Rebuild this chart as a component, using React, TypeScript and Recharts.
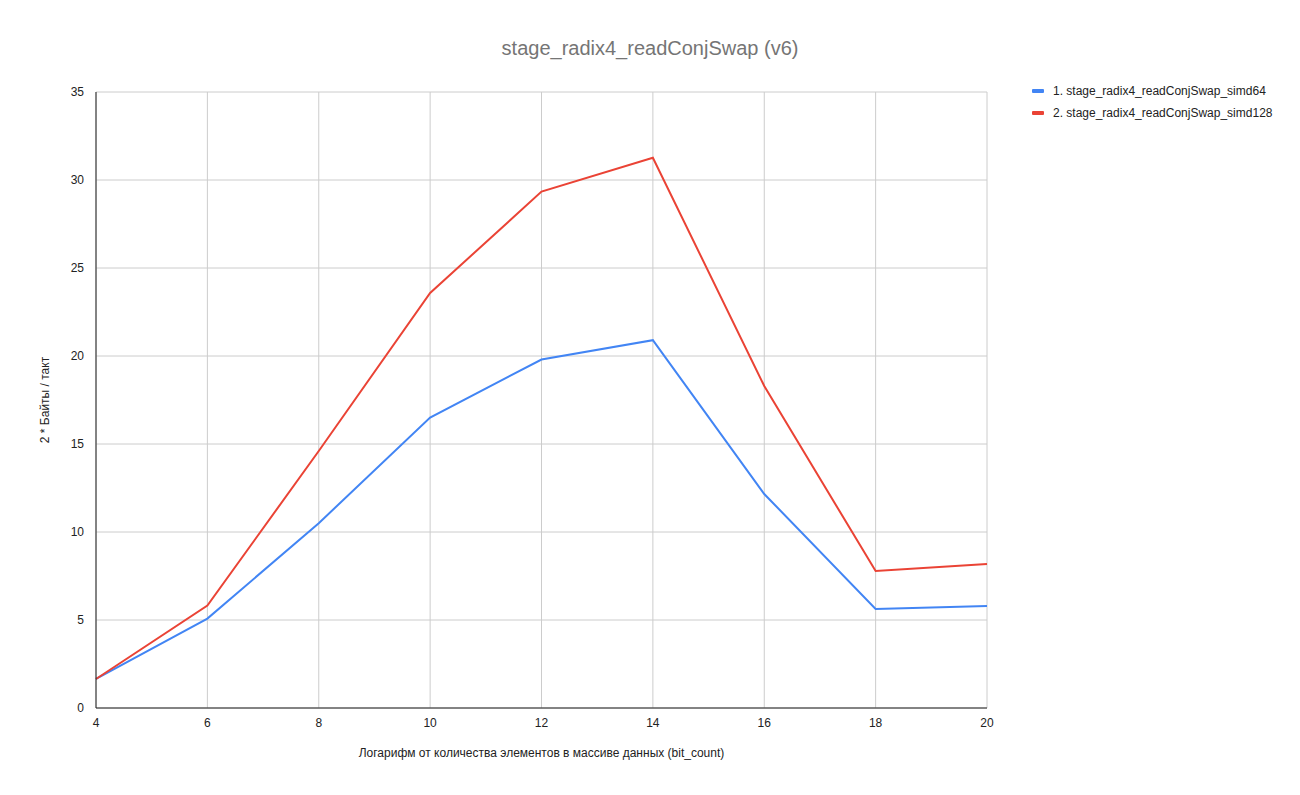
import React from 'react';
import { LineChart, Line, XAxis, YAxis, CartesianGrid } from 'recharts';

const bitCounts = [4, 6, 8, 10, 12, 14, 16, 18, 20];
const simd64 = [1.65, 5.08, 10.5, 16.5, 19.8, 20.9, 12.16, 5.63, 5.8];
const simd128 = [1.65, 5.82, 14.6, 23.58, 29.34, 31.26, 18.3, 7.78, 8.18];
const xTicks = [4, 6, 8, 10, 12, 14, 16, 18, 20];
const yTicks = [0, 5, 10, 15, 20, 25, 30, 35];
const seriesNames = ['1. stage_radix4_readConjSwap_simd64', '2. stage_radix4_readConjSwap_simd128'];
const seriesColors = ['#4285F4', '#EA4335'];

const data = bitCounts.map((b, i) => ({ x: b, s64: simd64[i], s128: simd128[i] }));

const FONT = '"Liberation Sans", Arial, sans-serif';

const YLabel = (props: any) => {
  const vb = props.viewBox || {};
  const cx = 45;
  const cy = vb.y + vb.height / 2;
  return (
    <text x={cx} y={cy} transform={`rotate(-90, ${cx}, ${cy})`} textAnchor="middle" dominantBaseline="central"
      fontFamily={FONT} fontSize={12} fill="#222">
      2 * Байты / такт
    </text>
  );
};

export default function App() {
  return (
    <div style={{ position: 'absolute', left: 0, top: 0, width: 1300, height: 795, background: '#fff' }}>
      <div style={{ position: 'absolute', left: 0, width: 1300, top: 37, textAlign: 'center', fontFamily: FONT, fontSize: 20, color: '#757575' }}>
        stage_radix4_readConjSwap (v6)
      </div>
      <div style={{ position: 'absolute', left: 1032, top: 80, fontFamily: FONT, fontSize: 12, color: '#222' }}>
        {seriesNames.map((n, i) => (
          <div key={n} style={{ display: 'flex', alignItems: 'center', height: 22 }}>
            <span style={{ display: 'inline-block', width: 12, height: 4, background: seriesColors[i], borderRadius: 1, marginRight: 9 }} />
            <span>{n}</span>
          </div>
        ))}
      </div>
      <LineChart width={1300} height={795} data={data} margin={{ top: 92, right: 313, bottom: 0, left: 0 }}>
        <CartesianGrid stroke="#cccccc" strokeWidth={1} />
        <XAxis dataKey="x" type="number" domain={[4, 20]} ticks={xTicks} tickLine={false} height={87}
          axisLine={{ stroke: '#222', strokeWidth: 1 }} tick={{ fill: '#222', fontSize: 12, fontFamily: FONT }} tickMargin={4}
          label={{ value: 'Логарифм от количества элементов в массиве данных (bit_count)', position: 'insideBottom', offset: 38, fill: '#222', fontSize: 12, fontFamily: FONT }} />
        <YAxis type="number" domain={[0, 35]} ticks={yTicks} tickLine={false} width={96}
          axisLine={{ stroke: '#222', strokeWidth: 1 }} tick={{ fill: '#222', fontSize: 12, fontFamily: FONT }} tickMargin={6}
          label={<YLabel />} />
        <Line type="linear" dataKey="s64" name={seriesNames[0]} stroke={seriesColors[0]} strokeWidth={2} dot={false} isAnimationActive={false} />
        <Line type="linear" dataKey="s128" name={seriesNames[1]} stroke={seriesColors[1]} strokeWidth={2} dot={false} isAnimationActive={false} />
      </LineChart>
    </div>
  );
}
